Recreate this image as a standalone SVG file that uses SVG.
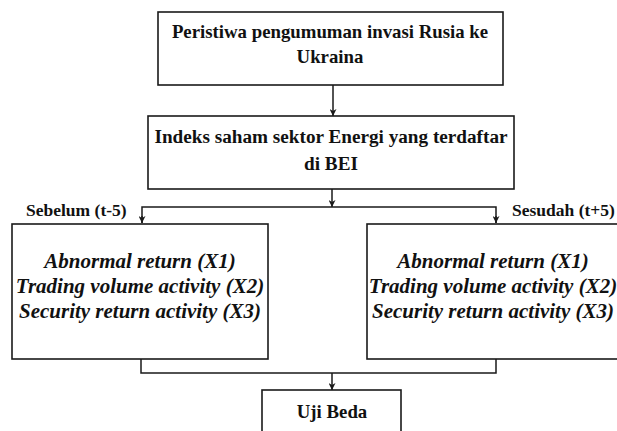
<svg xmlns="http://www.w3.org/2000/svg" width="617" height="431" viewBox="0 0 617 431">
<style>
.box{fill:#fff;stroke:#1a1a1a;stroke-width:1.6}
.ln{fill:none;stroke:#1a1a1a;stroke-width:1.5}
.t{font-family:'Liberation Serif','Times New Roman',Times,serif;font-weight:bold;fill:#111;text-anchor:middle}
.b{font-size:18.8px}
.b2{font-size:19.2px}
.i{font-size:21px;font-style:italic}
.l{font-size:17.5px;text-anchor:start}
</style>
<defs>
<marker id="ah" viewBox="0 0 10 10" refX="10" refY="5" markerWidth="7" markerHeight="7" markerUnits="userSpaceOnUse" orient="auto">
<path d="M0,0 L10,5 L0,10 L3,5 Z" fill="#1a1a1a"/>
</marker>
</defs>
<rect width="617" height="431" fill="#fff"/>
<g id="connectors">
<path class="ln" d="M333,85 V116" marker-end="url(#ah)"/>
<path class="ln" d="M332,189 V207" marker-end="url(#ah)"/>
<path class="ln" d="M142,223 V207 H496 V223"/>
<path class="ln" d="M142,216 V223" marker-end="url(#ah)"/>
<path class="ln" d="M496,216 V223" marker-end="url(#ah)"/>
<path class="ln" d="M141,359 V373 H496 V359"/>
<path class="ln" d="M332,373 V390" marker-end="url(#ah)"/>
</g>
<g id="n1">
<rect class="box" x="158" y="12" width="345" height="73"/>
<text class="t b" x="330" y="38">Peristiwa pengumuman invasi Rusia ke</text>
<text class="t b" x="330" y="63">Ukraina</text>
</g>
<g id="n2">
<rect class="box" x="148" y="116" width="366" height="73"/>
<text class="t b2" x="331" y="143">Indeks saham sektor Energi yang terdaftar</text>
<text class="t b2" x="331" y="170">di BEI</text>
</g>
<g id="lbl-sebelum">
<text class="t l" x="26" y="216">Sebelum (t-5)</text>
</g>
<g id="lbl-sesudah">
<text class="t l" x="512" y="216">Sesudah (t+5)</text>
</g>
<g id="n3">
<rect class="box" x="12" y="224" width="256" height="135"/>
<text class="t i" x="140" y="268">Abnormal return (X1)</text>
<text class="t i" x="140" y="293">Trading volume activity (X2)</text>
<text class="t i" x="140" y="318">Security return activity (X3)</text>
</g>
<g id="n4">
<rect class="box" x="367" y="224" width="256" height="135"/>
<text class="t i" x="493" y="268">Abnormal return (X1)</text>
<text class="t i" x="493" y="293">Trading volume activity (X2)</text>
<text class="t i" x="493" y="318">Security return activity (X3)</text>
</g>
<g id="n5">
<rect class="box" x="262" y="390" width="139" height="60"/>
<text class="t b" x="332" y="418">Uji Beda</text>
</g>
</svg>
